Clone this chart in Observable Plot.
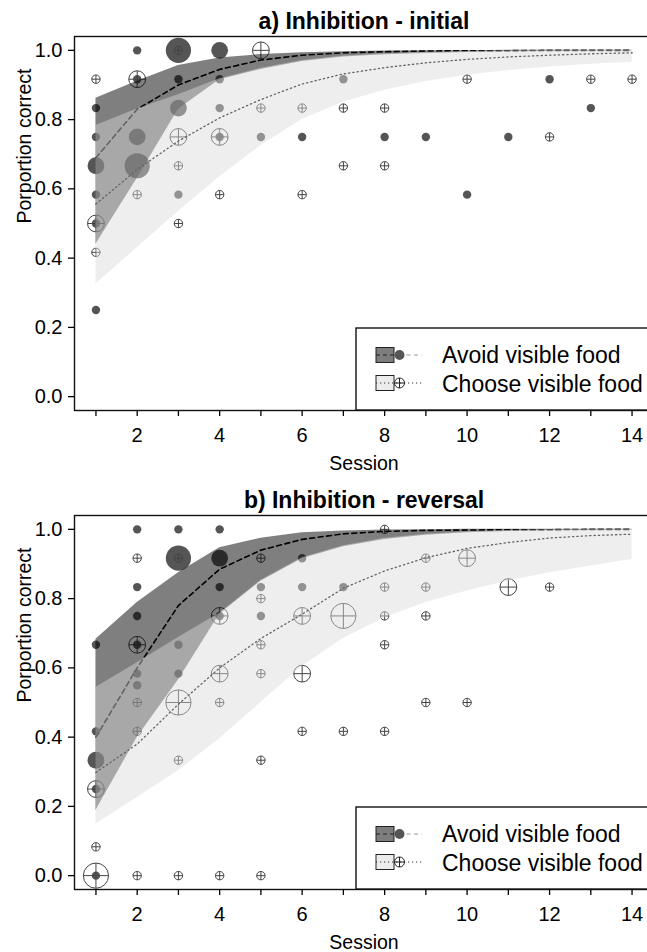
<!DOCTYPE html>
<html><head><meta charset="utf-8">
<script src="https://cdn.jsdelivr.net/npm/d3@7"></script>
<script src="https://cdn.jsdelivr.net/npm/@observablehq/plot@0.6"></script>
<style>
html,body{margin:0;padding:0;background:#fff;overflow:hidden;width:647px;height:952px}
#chart{width:647px}
#chart svg{display:block}
</style></head><body><div id="chart"></div>
<script>
const sessions = [1,2,3,4,5,6,7,8,9,10,11,12,13,14];
const xTicks = sessions;
const yTicks = [0, 0.2, 0.4, 0.6, 0.8, 1.0];
const seriesNames = ["Avoid visible food", "Choose visible food"];

// ---------- Panel a) Inhibition - initial ----------
const aTitle = "a) Inhibition - initial";
const aAvoidFit = [0.69,0.83,0.90,0.945,0.972,0.986,0.993,0.996,0.998,0.999,0.999,1,1,1];
const aAvoidLo  = [0.44,0.63,0.83,0.915,0.945,0.968,0.981,0.987,0.991,0.994,0.996,0.997,0.998,0.998];
const aAvoidHi  = [0.862,0.911,0.956,0.978,0.988,0.993,0.996,0.998,0.999,0.999,1,1,1,1];
const aChooseFit = [0.556,0.656,0.738,0.805,0.858,0.903,0.932,0.95,0.964,0.974,0.981,0.986,0.99,0.993];
const aChooseLo  = [0.325,0.43,0.535,0.635,0.725,0.80,0.85,0.885,0.91,0.928,0.942,0.952,0.96,0.966];
const aChooseHi  = [0.783,0.831,0.872,0.918,0.948,0.971,0.984,0.99,0.994,0.997,0.999,1,1,1];
// [session, proportion correct, number of individuals]
const aAvoidPts = [
  [1,0.8333,1],[1,0.75,1],[1,0.6667,2],[1,0.5833,1],[1,0.5,1],[1,0.25,1],
  [2,1,1],[2,0.9167,1],[2,0.75,2],[2,0.6667,3],
  [3,1,3],[3,0.9167,1],[3,0.8333,2],[3,0.5833,1],
  [4,1,2],[4,0.9167,1],[4,0.8333,1],[4,0.75,1],
  [5,0.75,1],[6,0.75,1],[7,0.9167,1],[8,0.75,1],[9,0.75,1],[10,0.5833,1],
  [11,0.75,1],[12,0.9167,1],[13,0.8333,1]
];
const aChoosePts = [
  [1,0.9167,1],[1,0.5,2],[1,0.4167,1],
  [2,0.9167,2],[2,0.5833,1],
  [3,1,1],[3,0.75,2],[3,0.6667,1],[3,0.5,1],
  [4,0.75,2],[4,0.5833,1],
  [5,1,2],[5,0.8333,1],
  [6,0.8333,1],[6,0.5833,1],
  [7,0.8333,1],[7,0.6667,1],
  [8,0.8333,1],[8,0.6667,1],
  [10,0.9167,1],[12,0.75,1],[13,0.9167,1],[14,0.9167,1]
];

// ---------- Panel b) Inhibition - reversal ----------
const bTitle = "b) Inhibition - reversal";
const bAvoidFit = [0.40,0.60,0.78,0.885,0.94,0.971,0.987,0.994,0.997,0.998,0.999,0.999,1,1];
const bAvoidLo  = [0.188,0.399,0.565,0.755,0.85,0.915,0.95,0.971,0.983,0.99,0.994,0.996,0.997,0.998];
const bAvoidHi  = [0.683,0.789,0.875,0.947,0.974,0.99,0.995,0.998,0.999,1,1,1,1,1];
const bChooseFit = [0.298,0.38,0.495,0.60,0.685,0.755,0.83,0.88,0.918,0.945,0.962,0.975,0.982,0.986];
const bChooseLo  = [0.149,0.226,0.303,0.395,0.50,0.605,0.685,0.745,0.789,0.822,0.851,0.875,0.894,0.913];
const bChooseHi  = [0.543,0.615,0.688,0.758,0.853,0.918,0.953,0.974,0.986,0.993,0.997,0.999,1,1];
const bAvoidPts = [
  [1,0.6667,1],[1,0.4167,1],[1,0.3333,2],[1,0.25,1],[1,0,1],
  [2,1,1],[2,0.8333,1],[2,0.75,1],[2,0.6667,1],[2,0.5833,1],[2,0.55,1],
  [3,1,1],[3,0.9167,3],[3,0.6667,1],[3,0.5833,1],
  [4,1,1],[4,0.9167,2],[4,0.8333,1],[4,0.75,1],
  [5,0.8333,1],[5,0.75,1],
  [6,0.9167,1],[6,0.8333,1],
  [7,0.8333,1]
];
const bChoosePts = [
  [1,0.25,2],[1,0.0833,1],[1,0,3],
  [2,0.9167,1],[2,0.6667,2],[2,0.5,1],[2,0.4167,1],[2,0,1],
  [3,0.9167,1],[3,0.5,3],[3,0.3333,1],[3,0,1],
  [4,0.75,2],[4,0.5833,2],[4,0.5,1],[4,0,1],
  [5,0.9167,1],[5,0.8,1],[5,0.6667,1],[5,0.5833,1],[5,0.3333,1],[5,0,1],
  [6,0.75,2],[6,0.5833,2],[6,0.4167,1],
  [7,0.75,3],[7,0.4167,1],
  [8,1,1],[8,0.8333,1],[8,0.75,1],[8,0.6667,1],[8,0.4167,1],
  [9,0.9167,1],[9,0.8333,1],[9,0.75,1],[9,0.5,1],
  [10,0.9167,2],[10,0.5,1],
  [11,0.8333,2],[12,0.8333,1]
];

// ---------- styling ----------
const FONT = "'Liberation Sans', Arial, Helvetica, sans-serif";
const AVOID_PT = "#555";
const CHOOSE_PT = "#444";

// circle with cross (R pch 10)
const oplus = {
  draw(context, size) {
    const r = Math.sqrt(size / Math.PI);
    context.moveTo(r, 0);
    context.arc(0, 0, r, 0, 2 * Math.PI);
    context.moveTo(-r, 0); context.lineTo(r, 0);
    context.moveTo(0, -r); context.lineTo(0, r);
  }
};

function makePanel(p) {
  const rows = sessions.map((s, i) => ({
    session: s,
    avoidFit: p.avoidFit[i], avoidLo: p.avoidLo[i], avoidHi: p.avoidHi[i],
    chooseFit: p.chooseFit[i], chooseLo: p.chooseLo[i], chooseHi: p.chooseHi[i]
  }));
  const toObj = (a) => a.map(([s, v, n]) => ({session: s, prop: v, n}));
  const avoid = toObj(p.avoidPts);
  const choose = toObj(p.choosePts);

  const svg = Plot.plot({
    width: 647,
    height: p.height,
    marginTop: 36,
    marginLeft: 74,
    marginRight: -6,
    marginBottom: p.height - 410,
    style: {fontFamily: FONT, fontSize: "20px", color: "black", background: "white", overflow: "hidden"},
    x: {domain: [0.48, 14.52], label: null},
    y: {domain: [-0.04, 1.04], label: null},
    r: {type: "linear", domain: [0, 3], range: [0, 12.6]},
    marks: [
      Plot.dot(avoid, {x: "session", y: "prop", r: "n", fill: AVOID_PT, stroke: "none"}),
      Plot.dot(choose, {x: "session", y: "prop", r: "n", symbol: oplus, fill: "none", stroke: CHOOSE_PT, strokeWidth: 1}),
      Plot.areaY(rows, {x: "session", y1: "avoidLo", y2: "avoidHi", fill: "black", fillOpacity: 0.5}),
      Plot.line(rows, {x: "session", y: "avoidFit", stroke: "black", strokeWidth: 1.6, strokeDasharray: "5,3.5"}),
      Plot.line(rows, {x: "session", y: "chooseFit", stroke: "black", strokeWidth: 1.3, strokeDasharray: "1.3,3"}),
      Plot.areaY(rows, {x: "session", y1: "chooseLo", y2: "chooseHi", fill: "#dadada", fillOpacity: 0.46}),
      Plot.frame({stroke: "#111", strokeWidth: 1.4}),
      Plot.axisX({ticks: xTicks, tickFormat: (d) => (d % 2 === 0 ? String(d) : ""), tickSize: 6, tickPadding: 11, fontSize: 20, strokeWidth: 1.3, label: null}),
      Plot.axisY({ticks: yTicks, tickFormat: d3.format(".1f"), tickSize: 6, tickPadding: 6, fontSize: 20, strokeWidth: 1.3, label: null}),
      Plot.text([p.title], {text: (d) => d, frameAnchor: "top", dy: -8, lineAnchor: "bottom", fontSize: 23, fontWeight: "bold"}),
      Plot.text(["Session"], {text: (d) => d, frameAnchor: "bottom", dy: 59, lineAnchor: "bottom", fontSize: 19.5}),
      Plot.text(["Porportion correct"], {text: (d) => d, frameAnchor: "left", dx: -50, rotate: -90, lineAnchor: "middle", fontSize: 19.5})
    ]
  });

  // legend box (bottom-right corner of the plot frame)
  const g = d3.select(svg).append("g").attr("transform", "translate(356,328)").attr("text-anchor", "start");
  g.append("rect").attr("x", 0).attr("y", 0).attr("width", 400).attr("height", 82)
    .attr("fill", "white").attr("stroke", "#111").attr("stroke-width", 1.4);
  // avoid entry
  g.append("rect").attr("x", 20).attr("y", 19.5).attr("width", 18).attr("height", 15)
    .attr("fill", "#7d7d7d").attr("stroke", "#222").attr("stroke-width", 1);
  g.append("line").attr("x1", 20).attr("x2", 38).attr("y1", 27).attr("y2", 27)
    .attr("stroke", "#222").attr("stroke-width", 1).attr("stroke-dasharray", "4,3");
  g.append("line").attr("x1", 43).attr("x2", 66).attr("y1", 27).attr("y2", 27)
    .attr("stroke", "#999").attr("stroke-width", 1.2).attr("stroke-dasharray", "4,3.5");
  g.append("circle").attr("cx", 43.5).attr("cy", 27).attr("r", 5).attr("fill", AVOID_PT);
  g.append("text").attr("x", 86).attr("y", 35).attr("font-size", 23).attr("font-family", FONT)
    .attr("text-anchor", "start").attr("fill", "black").text(seriesNames[0]);
  // choose entry
  g.append("rect").attr("x", 20).attr("y", 47.5).attr("width", 18).attr("height", 15)
    .attr("fill", "#ececec").attr("stroke", "#222").attr("stroke-width", 1);
  g.append("line").attr("x1", 20).attr("x2", 66).attr("y1", 55).attr("y2", 55)
    .attr("stroke", "#333").attr("stroke-width", 1.1).attr("stroke-dasharray", "1.2,2.8");
  g.append("path").attr("transform", "translate(43.5,55)")
    .attr("d", d3.symbol(oplus, Math.PI * 25)())
    .attr("fill", "none").attr("stroke", "#222").attr("stroke-width", 1);
  g.append("text").attr("x", 86).attr("y", 63.5).attr("font-size", 23).attr("font-family", FONT)
    .attr("text-anchor", "start").attr("fill", "black").text(seriesNames[1]);
  return svg;
}

const chart = document.getElementById("chart");
chart.append(makePanel({
  title: aTitle, height: 479,
  avoidFit: aAvoidFit, avoidLo: aAvoidLo, avoidHi: aAvoidHi,
  chooseFit: aChooseFit, chooseLo: aChooseLo, chooseHi: aChooseHi,
  avoidPts: aAvoidPts, choosePts: aChoosePts
}));
chart.append(makePanel({
  title: bTitle, height: 473,
  avoidFit: bAvoidFit, avoidLo: bAvoidLo, avoidHi: bAvoidHi,
  chooseFit: bChooseFit, chooseLo: bChooseLo, chooseHi: bChooseHi,
  avoidPts: bAvoidPts, choosePts: bChoosePts
}));
</script></body></html>
